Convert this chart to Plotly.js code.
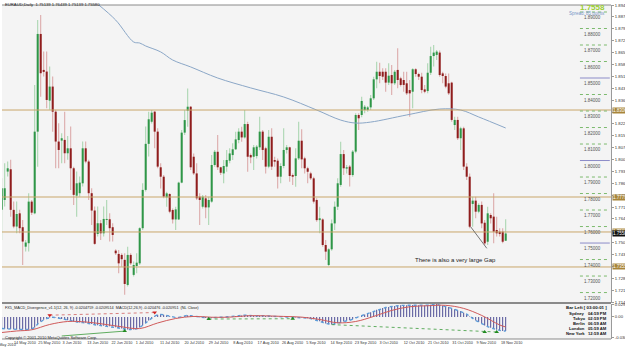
<!DOCTYPE html>
<html><head><meta charset="utf-8">
<script src="https://cdn.plot.ly/plotly-3.0.1.min.js"></script>
<style>html,body{margin:0;padding:0;background:#fff;}#chart{width:625px;height:349px;}</style>
</head><body><div id="chart"></div>
<script>
// ---- OHLC, one value per daily bar (bar index 0..168) ----
const openP = [
1.7701,1.7761,1.7933,1.7947,1.7701,1.7600,1.7680,1.7596,1.7478,1.7499,
1.7751,1.7680,1.8175,1.8767,1.8549,1.8539,1.8363,1.8448,1.8296,1.8115,
1.8121,1.8125,1.8044,1.8074,1.7953,1.7787,1.7802,1.7862,1.8074,1.7994,
1.7802,1.7697,1.7555,1.7620,1.7559,1.7640,1.7644,1.7596,1.7454,1.7434,
1.7428,1.7398,1.7246,1.7428,1.7307,1.7361,1.7377,1.7590,1.7822,1.8101,
1.8235,1.8296,1.8175,1.7959,1.7902,1.7777,1.7797,1.7700,1.7643,1.7643,
1.7866,1.8169,1.8302,1.8326,1.8023,1.7922,1.7781,1.7720,1.7771,1.7716,
1.7751,1.7973,1.8053,1.7959,1.7922,1.7963,1.7999,1.8033,1.8068,1.8124,
1.8175,1.8140,1.8221,1.8033,1.8023,1.8027,1.8080,1.8175,1.8074,1.7963,
1.8144,1.8003,1.7999,1.7902,1.7967,1.8064,1.8080,1.7912,1.7906,1.8013,
1.8120,1.8013,1.7953,1.7922,1.7892,1.7761,1.7639,1.7643,1.7488,1.7367,
1.7462,1.7619,1.7720,1.7852,1.8039,1.7951,1.7963,1.7912,1.8054,1.8276,
1.8276,1.8306,1.8306,1.8322,1.8377,1.8492,1.8538,1.8538,1.8538,1.8472,
1.8518,1.8468,1.8549,1.8498,1.8488,1.8468,1.8427,1.8417,1.8553,1.8524,
1.8508,1.8431,1.8421,1.8532,1.8633,1.8640,1.8654,1.8528,1.8512,1.8468,
1.8472,1.8215,1.8246,1.8135,1.8195,1.7963,1.7902,1.7737,1.7757,1.7690,
1.7731,1.7623,1.7508,1.7670,1.7660,1.7579,1.7569,1.7569,1.7514];
const highP = [
1.7893,1.7983,1.7994,1.8004,1.7751,1.7751,1.7701,1.7640,1.7519,1.7802,
1.7761,1.8458,1.8851,1.8882,1.8660,1.8660,1.8569,1.8509,1.8307,1.8226,
1.8165,1.8296,1.8149,1.8206,1.7963,1.7933,1.7903,1.8115,1.8115,1.8004,
1.7832,1.7721,1.7721,1.7640,1.7721,1.7761,1.7680,1.7620,1.7462,1.7458,
1.7438,1.7438,1.7478,1.7438,1.7388,1.7438,1.7595,1.7862,1.8206,1.8296,
1.8306,1.8300,1.8195,1.7983,1.7912,1.7811,1.7801,1.7710,1.7720,1.7872,
1.8185,1.8306,1.8437,1.8330,1.8043,1.7983,1.7801,1.7791,1.7791,1.7781,
1.8033,1.8064,1.8154,1.7963,1.8003,1.8064,1.8074,1.8104,1.8175,1.8195,
1.8205,1.8306,1.8235,1.8043,1.8094,1.8094,1.8266,1.8185,1.8084,1.8185,
1.8195,1.8023,1.8013,1.7983,1.8195,1.8094,1.8084,1.7922,1.8074,1.8235,
1.8189,1.8023,1.7963,1.7932,1.7902,1.7771,1.7720,1.7650,1.7518,1.7468,
1.7643,1.7751,1.7892,1.8114,1.8064,1.7973,1.7973,1.8064,1.8286,1.8286,
1.8387,1.8336,1.8330,1.8397,1.8508,1.8599,1.8593,1.8559,1.8559,1.8589,
1.8579,1.8549,1.8680,1.8508,1.8538,1.8538,1.8488,1.8559,1.8559,1.8532,
1.8532,1.8458,1.8589,1.8690,1.8700,1.8670,1.8666,1.8538,1.8528,1.8528,
1.8478,1.8266,1.8266,1.8205,1.8205,1.7983,1.7922,1.7781,1.7781,1.7741,
1.7751,1.7640,1.7720,1.7680,1.7801,1.7660,1.7589,1.7589,1.7644];
const lowP = [
1.7519,1.7721,1.7903,1.7660,1.7590,1.7559,1.7559,1.7367,1.7448,1.7448,
1.7670,1.7675,1.7963,1.8387,1.8509,1.8317,1.8307,1.8175,1.7953,1.7953,
1.7983,1.7983,1.8004,1.7822,1.7731,1.7660,1.7781,1.7842,1.7983,1.7761,
1.7610,1.7489,1.7539,1.7519,1.7539,1.7610,1.7509,1.7509,1.7428,1.7317,
1.7357,1.7186,1.7236,1.7367,1.7297,1.7317,1.7367,1.7579,1.7812,1.8024,
1.8225,1.8074,1.7953,1.7831,1.7771,1.7720,1.7680,1.7619,1.7579,1.7639,
1.7862,1.8154,1.8205,1.7942,1.7912,1.7761,1.7609,1.7710,1.7650,1.7609,
1.7744,1.7963,1.7942,1.7912,1.7862,1.7932,1.7983,1.8003,1.8064,1.8104,
1.8114,1.8134,1.7932,1.7983,1.7942,1.8013,1.8064,1.8003,1.7922,1.7953,
1.7942,1.7963,1.7831,1.7862,1.7953,1.8043,1.7872,1.7852,1.7841,1.8003,
1.7953,1.7922,1.7862,1.7882,1.7740,1.7629,1.7559,1.7478,1.7397,1.7361,
1.7454,1.7579,1.7700,1.7841,1.7912,1.7922,1.7842,1.7902,1.8044,1.8185,
1.8262,1.8286,1.8296,1.8306,1.8367,1.8438,1.8468,1.8488,1.8417,1.8458,
1.8397,1.8458,1.8438,1.8448,1.8417,1.8397,1.8266,1.8316,1.8508,1.8488,
1.8407,1.8407,1.8407,1.8518,1.8569,1.8609,1.8508,1.8468,1.8438,1.8397,
1.8235,1.8185,1.8124,1.8064,1.7943,1.7882,1.7589,1.7599,1.7650,1.7680,
1.7589,1.7488,1.7488,1.7619,1.7498,1.7539,1.7539,1.7498,1.7514];
const closeP = [
1.7832,1.7832,1.7953,1.7701,1.7600,1.7676,1.7590,1.7509,1.7503,1.7751,
1.7684,1.8175,1.8767,1.8529,1.8537,1.8367,1.8448,1.8296,1.8115,1.8064,
1.8135,1.8044,1.8074,1.7953,1.7792,1.7862,1.7866,1.8074,1.7994,1.7802,
1.7697,1.7495,1.7620,1.7559,1.7646,1.7646,1.7590,1.7549,1.7438,1.7377,
1.7402,1.7252,1.7428,1.7377,1.7367,1.7381,1.7590,1.7822,1.8101,1.8250,
1.8290,1.8175,1.7963,1.7902,1.7781,1.7801,1.7690,1.7643,1.7704,1.7866,
1.8169,1.8245,1.8326,1.7959,1.7922,1.7771,1.7761,1.7781,1.7716,1.7761,
1.7973,1.8053,1.7959,1.7926,1.7967,1.8003,1.8043,1.8068,1.8128,1.8175,
1.8140,1.8221,1.8023,1.8019,1.8080,1.8084,1.8175,1.8064,1.7963,1.8144,
1.7963,1.7993,1.7902,1.7967,1.8064,1.8080,1.7906,1.7902,1.8013,1.8120,
1.8007,1.7953,1.7932,1.7892,1.7751,1.7639,1.7650,1.7488,1.7448,1.7462,
1.7619,1.7720,1.7862,1.8039,1.7953,1.7959,1.7912,1.8054,1.8276,1.8256,
1.8361,1.8326,1.8322,1.8377,1.8492,1.8538,1.8512,1.8508,1.8472,1.8514,
1.8468,1.8538,1.8488,1.8458,1.8458,1.8407,1.8407,1.8553,1.8524,1.8508,
1.8427,1.8417,1.8532,1.8633,1.8654,1.8660,1.8518,1.8512,1.8448,1.8407,
1.8246,1.8246,1.8135,1.8195,1.7963,1.7902,1.7599,1.7757,1.7690,1.7731,
1.7619,1.7498,1.7680,1.7650,1.7569,1.7559,1.7555,1.7508,1.7558];

// ---- moving average (read at sparse bars) ----
const maBar = [32,38,44,46,48,53,57,63,72,83,94,105,113,118,123,135,146,153,159,168];
const maVal = [1.8948,1.8851,1.8718,1.8712,1.8694,1.8658,1.8609,1.8567,1.8500,1.8440,1.8385,1.8306,1.8245,1.8227,1.8233,1.8276,1.8312,1.8306,1.8264,1.8197];

// ---- horizontal support / resistance lines ----
const srLevels = [1.8306, 1.7779, 1.7567, 1.7355];
const srLabels = ['1.83060','1.77790','1.75670','1.73550'];
// ---- right-side price grid levels ----
const minorLevels = [1.89,1.88,1.87,1.86,1.84,1.83,1.82,1.81,1.79,1.78,1.77,1.76,1.74,1.73,1.72];
const majorLevels = [1.85,1.80,1.75];
const bidPrice = 1.7558;

// ---- MACD sub-window ----
const macdHist = [
-0.0196,-0.0201,-0.0204,-0.0204,-0.0207,-0.0211,-0.0213,-0.0214,-0.0216,-0.0213,
-0.0204,-0.0179,-0.0119,-0.0077,-0.0048,-0.0026,-0.0010,-0.0005,-0.0009,-0.0020,
-0.0034,-0.0044,-0.0054,-0.0065,-0.0078,-0.0088,-0.0094,-0.0095,-0.0099,-0.0107,
-0.0119,-0.0133,-0.0139,-0.0146,-0.0150,-0.0153,-0.0158,-0.0163,-0.0175,-0.0187,
-0.0197,-0.0211,-0.0214,-0.0214,-0.0211,-0.0201,-0.0180,-0.0146,-0.0102,-0.0060,
-0.0020,0.0014,0.0037,0.0044,0.0037,0.0026,0.0014,0.0000,-0.0009,-0.0007,
0.0003,0.0017,0.0027,0.0020,0.0014,0.0003,-0.0007,-0.0014,-0.0017,-0.0019,
-0.0014,-0.0007,-0.0003,-0.0005,-0.0005,-0.0002,0.0003,0.0009,0.0015,0.0022,
0.0026,0.0031,0.0027,0.0020,0.0019,0.0017,0.0022,0.0020,0.0015,0.0017,
0.0014,0.0010,0.0003,0.0000,0.0002,0.0005,0.0000,-0.0007,-0.0010,-0.0007,
-0.0009,-0.0014,-0.0020,-0.0027,-0.0041,-0.0058,-0.0071,-0.0092,-0.0111,-0.0122,
-0.0126,-0.0119,-0.0105,-0.0085,-0.0075,-0.0065,-0.0058,-0.0041,-0.0014,0.0003,
0.0024,0.0041,0.0058,0.0078,0.0102,0.0122,0.0136,0.0150,0.0160,0.0170,
0.0180,0.0187,0.0194,0.0197,0.0197,0.0197,0.0194,0.0201,0.0201,0.0199,
0.0194,0.0194,0.0201,0.0207,0.0214,0.0214,0.0201,0.0190,0.0180,0.0170,
0.0146,0.0129,0.0112,0.0099,0.0071,0.0048,0.0007,-0.0031,-0.0061,-0.0085,
-0.0112,-0.0146,-0.0163,-0.0184,-0.0201,-0.0218,-0.0228,-0.0238,-0.0238];
const sigBar = [0,5,10,16,22,28,34,40,46,52,58,64,70,76,82,88,94,100,106,112,118,124,130,136,142,148,154,160,166,168];
const sigVal = [-0.0264,-0.0238,-0.0218,-0.0128,-0.0077,-0.0085,-0.0122,-0.0167,-0.0197,-0.0102,-0.0026,0.0009,-0.0005,-0.0003,0.0020,0.0019,0.0009,-0.0003,-0.0043,-0.0099,-0.0077,0.0009,0.0111,0.0173,0.0190,0.0197,0.0145,0.0026,-0.0136,-0.0170];
const sellArrowBar = [16,51,145];
const sellArrowVal = [0.0030,0.0075,0.0240];
const buyArrowBar = [41,69,97,161,165];
const buyArrowVal = [-0.0240,-0.0035,-0.0030,-0.0255,-0.0255];

// ---- date axis ----
const firstDateText = '6 May 2010';
const dateTickBar = [4.1,12.2,20.3,28.5,36.6,44.7,52.8,60.9,69.0,77.2,85.3,93.4,101.5,109.6,117.7,125.9,134.0,142.1,150.2,158.3,166.4];
const dateTickText = ['14 May 2010','25 May 2010','3 Jun 2010','13 Jun 2010','22 Jun 2010','1 Jul 2010','11 Jul 2010','20 Jul 2010','29 Jul 2010','8 Aug 2010','17 Aug 2010','26 Aug 2010','5 Sep 2010','14 Sep 2010','23 Sep 2010','3 Oct 2010','12 Oct 2010','21 Oct 2010','31 Oct 2010','9 Nov 2010','18 Nov 2010'];

// ---------------- build ----------------
const FONT = 'Liberation Sans, Arial, sans-serif';
const bull = {x:[],wb:[],wh:[],bb:[],bh:[]}, bear = {x:[],wb:[],wh:[],bb:[],bh:[]};
for (let i = 0; i < openP.length; i++) {
  const g = closeP[i] >= openP[i] ? bull : bear;
  g.x.push(i);
  g.wb.push(lowP[i]); g.wh.push(highP[i]-lowP[i]);
  const lo = Math.min(openP[i], closeP[i]);
  g.bb.push(lo); g.bh.push(Math.max(Math.abs(closeP[i]-openP[i]), 0.00025));
}
const idx = openP.map((_, i) => i);
const traces = [
  {type:'bar', x:bull.x, y:bull.wh, base:bull.wb, width:0.34, marker:{color:'#a6d4ad', line:{width:0}}, hoverinfo:'skip'},
  {type:'bar', x:bear.x, y:bear.wh, base:bear.wb, width:0.34, marker:{color:'#dba5a5', line:{width:0}}, hoverinfo:'skip'},
  {type:'bar', x:bull.x, y:bull.bh, base:bull.bb, width:0.68, marker:{color:'#2e9647', line:{width:0}}, hoverinfo:'skip'},
  {type:'bar', x:bear.x, y:bear.bh, base:bear.bb, width:0.68, marker:{color:'#8f1d1d', line:{width:0}}, hoverinfo:'skip'},
  {type:'scatter', mode:'lines', x:maBar, y:maVal, line:{color:'#8ba7c7', width:1, shape:'spline'}, hoverinfo:'skip'},
  {type:'bar', x:idx, y:macdHist, width:0.3, yaxis:'y2', marker:{color:'#3e3e8c', line:{width:0}}, hoverinfo:'skip'},
  {type:'scatter', mode:'lines', x:idx, y:macdHist, yaxis:'y2', line:{color:'#5b9bd8', width:1.4, dash:'dot'}, hoverinfo:'skip'},
  {type:'scatter', mode:'lines', x:sigBar, y:sigVal, yaxis:'y2', line:{color:'#d05a5a', width:1, shape:'spline'}, hoverinfo:'skip'},
  {type:'scatter', mode:'lines', x:[sellArrowBar[0],sellArrowBar[1]], y:[sellArrowVal[0],sellArrowVal[1]], yaxis:'y2', line:{color:'#d06060', width:0.8, dash:'dot'}, hoverinfo:'skip'},
  {type:'scatter', mode:'lines', x:[buyArrowBar[1],buyArrowBar[2]], y:[buyArrowVal[1],buyArrowVal[2]], yaxis:'y2', line:{color:'#3a9a3a', width:0.8, dash:'dot'}, hoverinfo:'skip'},
  {type:'scatter', mode:'lines', x:[110,buyArrowBar[4]], y:[-0.0130,buyArrowVal[4]], yaxis:'y2', line:{color:'#3a9a3a', width:0.8, dash:'dot'}, hoverinfo:'skip'},
  {type:'scatter', mode:'lines', x:[20,buyArrowBar[0]], y:[-0.0323,buyArrowVal[0]], yaxis:'y2', line:{color:'#3a9a3a', width:0.8}, hoverinfo:'skip'},
  {type:'scatter', mode:'markers', x:sellArrowBar, y:sellArrowVal, yaxis:'y2', marker:{symbol:'triangle-down', size:4, color:'#d02020'}, hoverinfo:'skip'},
  {type:'scatter', mode:'markers', x:buyArrowBar, y:buyArrowVal, yaxis:'y2', marker:{symbol:'triangle-up', size:4, color:'#208a20'}, hoverinfo:'skip'}
];

const shapes = [];
const annotations = [];
const px2py = p => (339 - p) / 334;     // pixel row -> paper y
srLevels.forEach((v, k) => {
  shapes.push({type:'line', xref:'paper', yref:'y', x0:0, x1:1, y0:v, y1:v, line:{color:'#c9a66b', width:1}});
  annotations.push({xref:'paper', yref:'y', x:1, y:v, xanchor:'left', yanchor:'middle', xshift:1, text:srLabels[k], showarrow:false,
    bgcolor:'#a8853a', borderpad:0, font:{family:FONT, size:4.5, color:'#fff'}});
});
minorLevels.forEach(v => {
  shapes.push({type:'line', xref:'paper', yref:'y', x0:0.949, x1:0.998, y0:v, y1:v, line:{color:'#7cba6e', width:1, dash:'dot'}});
  annotations.push({xref:'paper', yref:'y', x:0.987, y:v, xanchor:'right', yanchor:'top', yshift:-1, text:v.toFixed(5), showarrow:false, font:{family:FONT, size:4.5, color:'#555'}});
});
majorLevels.forEach(v => {
  shapes.push({type:'line', xref:'paper', yref:'y', x0:0.949, x1:0.998, y0:v, y1:v, line:{color:'#8c8cc8', width:1}});
  annotations.push({xref:'paper', yref:'y', x:0.987, y:v, xanchor:'right', yanchor:'top', yshift:-1, text:v.toFixed(5), showarrow:false, font:{family:FONT, size:4.5, color:'#555'}});
});
annotations.push({xref:'paper', yref:'y', x:1, y:bidPrice, xanchor:'left', yanchor:'middle', xshift:1, text:bidPrice.toFixed(5), showarrow:false,
  bgcolor:'#111', borderpad:0, font:{family:FONT, size:4.5, color:'#fff'}});

// window separators and frame
shapes.push({type:'line', xref:'paper', yref:'paper', x0:0, x1:1, y0:px2py(303), y1:px2py(303), line:{color:'#8a8a8a', width:2}});
shapes.push({type:'line', xref:'paper', yref:'paper', x0:0, x1:1, y0:0, y1:0, line:{color:'#8a8a8a', width:1}});
shapes.push({type:'line', xref:'paper', yref:'paper', x0:0, x1:1, y0:1, y1:1, line:{color:'#8a8a8a', width:1}});
// gap note
shapes.push({type:'line', xref:'x', yref:'y', x0:156.3, y0:1.7599, x1:161.7, y1:1.7468, line:{color:'#555', width:0.8}});
annotations.push({xref:'x', yref:'y', x:151.4, y:1.7397, text:'There is also a very large Gap', showarrow:false, font:{family:FONT, size:6, color:'#222'}});

// texts
annotations.push({xref:'paper', yref:'paper', x:0.002, y:px2py(4.5), xanchor:'left', yanchor:'middle', showarrow:false,
  text:'EURAUD,Daily  1.75139 1.76439 1.75139 1.75580', font:{family:FONT, size:4.2, color:'#222'}});
annotations.push({xref:'paper', yref:'paper', x:0.993, y:px2py(7), xanchor:'right', yanchor:'middle', showarrow:false,
  text:'<b>1.7558</b>', font:{family:FONT, size:8, color:'#9acd32'}});
annotations.push({xref:'paper', yref:'paper', x:0.993, y:px2py(13.5), xanchor:'right', yanchor:'middle', showarrow:false,
  text:'Spread: 85 points', font:{family:FONT, size:4.5, color:'#7896c8'}});
annotations.push({xref:'paper', yref:'paper', x:0.002, y:px2py(307.5), xanchor:'left', yanchor:'middle', showarrow:false,
  text:'FX5_MACD_Divergence_v1.1(12, 26, 9) -0.0204759 -0.0209514  MACD(12,26,9) -0.020476 -0.020951  (NL Close)', font:{family:FONT, size:3.8, color:'#222'}});
annotations.push({xref:'paper', yref:'paper', x:0.002, y:px2py(337.5), xanchor:'left', yanchor:'middle', showarrow:false,
  text:'Copyright © 2001-2010 MetaQuotes Software Corp.', font:{family:FONT, size:4, color:'#222'}});
annotations.push({xref:'paper', yref:'paper', x:-0.013, y:0, xanchor:'left', yanchor:'top', yshift:-2, showarrow:false,
  text:firstDateText, font:{family:FONT, size:3.8, color:'#333'}});
const clockNames = ['Sydney','Tokyo','Berlin','London','New York'];
const clockTimes = ['04:59 PM','02:59 PM','06:59 AM','05:59 AM','12:59 AM'];
annotations.push({xref:'paper', yref:'paper', x:0.997, y:px2py(307), xanchor:'right', yanchor:'middle', showarrow:false,
  text:'<b>Bar Left [ 03:00:01 ]</b>', font:{family:FONT, size:4.4, color:'#111'}});
clockNames.forEach((n, k) => {
  const yy = px2py(313 + k*5);
  annotations.push({xref:'paper', yref:'paper', x:0.961, y:yy, xanchor:'right', yanchor:'middle', showarrow:false, text:'<b>'+n+'</b>', font:{family:FONT, size:4.2, color:'#111'}});
  annotations.push({xref:'paper', yref:'paper', x:0.997, y:yy, xanchor:'right', yanchor:'middle', showarrow:false, text:'<b>'+clockTimes[k]+'</b>', font:{family:FONT, size:4.2, color:'#111'}});
});

const layout = {
  width:625, height:349,
  margin:{l:2, r:14, t:5, b:10, pad:0},
  paper_bgcolor:'#ffffff', plot_bgcolor:'#f4f4f4',
  showlegend:false, barmode:'overlay',
  font:{family:FONT, size:5, color:'#333'},
  xaxis:{anchor:'y2', range:[0.1, 203.1], showgrid:false, zeroline:false, showline:false,
    tickmode:'array', tickvals:dateTickBar, ticktext:dateTickText, ticks:'', ticklabelposition:'outside right',
    tickangle:0, automargin:false, tickfont:{family:FONT, size:3.8, color:'#333'}, fixedrange:true},
  yaxis:{domain:[0.108, 1], range:[1.71371, 1.89424], side:'right', showgrid:false, zeroline:false,
    showline:true, linecolor:'#9a9a9a', linewidth:1, ticks:'outside', ticklen:2, tickcolor:'#9a9a9a',
    tick0:1.7142, dtick:0.0072, tickformat:'.5f', automargin:false, tickfont:{family:FONT, size:4.2, color:'#333'}},
  yaxis2:{domain:[0, 0.105], range:[-0.0374, 0.0221], side:'right', showgrid:false, zeroline:false,
    showline:true, linecolor:'#9a9a9a', linewidth:1, ticks:'outside', ticklen:2, tickcolor:'#9a9a9a', automargin:false,
    tickmode:'array', tickvals:[0.0205, 0, -0.0350], ticktext:['0.0297','0.00','-0.0300'], tickfont:{family:FONT, size:4.2, color:'#333'}},
  shapes:shapes, annotations:annotations
};
Plotly.newPlot('chart', traces, layout, {staticPlot:true, displayModeBar:false});
</script></body></html>
